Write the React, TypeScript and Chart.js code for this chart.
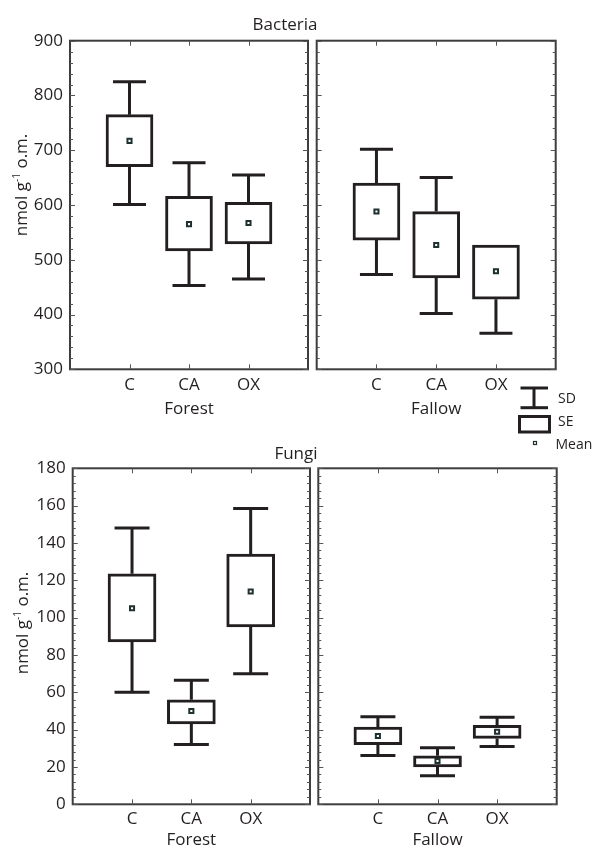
import React, { useEffect, useRef } from 'react';
import { Chart, registerables } from 'chart.js';

Chart.register(...registerables);

// ---------- data ----------
const groups = ['C', 'CA', 'OX'];

// Bacteria, Forest
const bacForestMean = [717, 565, 567];
const bacForestSeLow = [670, 516, 529];
const bacForestSeHigh = [765, 616, 605];
const bacForestSdLow = [601, 453, 465];
const bacForestSdHigh = [825, 677, 655];

// Bacteria, Fallow
const bacFallowMean = [588, 527, 479];
const bacFallowSeLow = [536, 467, 428];
const bacFallowSeHigh = [640, 588, 527];
const bacFallowSdLow = [473, 402, 366];
const bacFallowSdHigh = [702, 650, 527];

// Fungi, Forest
const funForestMean = [105, 50, 114];
const funForestSeLow = [87, 43, 95];
const funForestSeHigh = [123.5, 56, 134];
const funForestSdLow = [60, 32, 70];
const funForestSdHigh = [148, 66.5, 158.5];

// Fungi, Fallow
const funFallowMean = [36.6, 23.2, 38.9];
const funFallowSeLow = [32, 20, 35.3];
const funFallowSeHigh = [41.4, 26, 42.3];
const funFallowSdLow = [26.2, 15.3, 30.9];
const funFallowSdHigh = [46.9, 30.3, 46.6];

// axis ranges
const bacYRange = [300, 900];
const bacYStep = 100;
const funYRange = [0, 180];
const funYStep = 20;

// ---------- style ----------
const FONT = '"Open Sans", "DejaVu Sans", sans-serif';
const TXT = '#231f20';
const INK = '#231f20';
const FRAME = '#3d3d3d';
const TICK = '#555555';
const MEAN = '#1e3030';

type PanelProps = {
  left: number;
  top: number;
  width: number;
  height: number;
  pad: { left: number; right: number; top: number; bottom: number };
  yMin: number;
  yMax: number;
  yStep: number;
  showY: boolean;
  yWidth: number;
  xHeight: number;
  tickPad: number;
  titlePadBottom: number;
  xTitle: string;
  mean: number[];
  seLow: number[];
  seHigh: number[];
  sdLow: number[];
  sdHigh: number[];
  boxW: number;
  capW: number;
};

function Panel(p: PanelProps) {
  const ref = useRef<HTMLCanvasElement | null>(null);

  useEffect(() => {
    if (!ref.current) return;
    const labels = ['', ...groups, ''];

    const framePlugin = {
      id: 'frameTicks',
      beforeDatasetsDraw(chart: any) {
        const { ctx, chartArea: a, scales } = chart;
        const x = scales.x;
        const y = scales.y;
        ctx.save();
        ctx.strokeStyle = FRAME;
        ctx.lineWidth = 2;
        ctx.strokeRect(a.left, a.top, a.right - a.left, a.bottom - a.top);
        ctx.strokeStyle = TICK;
        ctx.lineWidth = 1;
        const minor = p.yStep / 5;
        const n = Math.round((p.yMax - p.yMin) / minor);
        for (let k = 0; k <= n; k++) {
          const v = p.yMin + k * minor;
          const py = Math.round(y.getPixelForValue(v)) + 0.5;
          const len = k % 5 === 0 ? 5 : 3;
          ctx.beginPath();
          ctx.moveTo(a.left, py);
          ctx.lineTo(a.left + len, py);
          ctx.moveTo(a.right - len, py);
          ctx.lineTo(a.right, py);
          ctx.stroke();
        }
        for (let i = 1; i <= groups.length; i++) {
          const px = Math.round(x.getPixelForValue(i)) + 0.5;
          ctx.beginPath();
          ctx.moveTo(px, a.top);
          ctx.lineTo(px, a.top + 5);
          ctx.moveTo(px, a.bottom);
          ctx.lineTo(px, a.bottom - 5);
          ctx.stroke();
        }
        // whiskers (SD)
        ctx.strokeStyle = INK;
        ctx.lineWidth = 3;
        ctx.lineCap = 'butt';
        for (let i = 0; i < groups.length; i++) {
          const cx = x.getPixelForValue(i + 1);
          const yLo = y.getPixelForValue(p.sdLow[i]);
          const yHi = y.getPixelForValue(p.sdHigh[i]);
          ctx.beginPath();
          if (p.sdLow[i] < p.seLow[i]) {
            ctx.moveTo(cx, yLo);
            ctx.lineTo(cx, y.getPixelForValue(p.seLow[i]));
            ctx.moveTo(cx - p.capW / 2, yLo);
            ctx.lineTo(cx + p.capW / 2, yLo);
          }
          if (p.sdHigh[i] > p.seHigh[i]) {
            ctx.moveTo(cx, yHi);
            ctx.lineTo(cx, y.getPixelForValue(p.seHigh[i]));
            ctx.moveTo(cx - p.capW / 2, yHi);
            ctx.lineTo(cx + p.capW / 2, yHi);
          }
          ctx.stroke();
        }
        ctx.restore();
      },
    };

    const chart = new Chart(ref.current, {
      type: 'bar',
      data: {
        labels,
        datasets: [
          {
            type: 'line',
            label: 'Mean',
            data: [null, ...p.mean, null],
            showLine: false,
            pointStyle: 'rect',
            pointRadius: 2.9,
            pointBorderWidth: 2,
            pointBorderColor: MEAN,
            pointBackgroundColor: '#ffffff',
          } as any,
          {
            type: 'bar',
            label: 'SE',
            data: [null, ...groups.map((_, i) => [p.seLow[i], p.seHigh[i]]), null],
            backgroundColor: '#ffffff',
            borderColor: INK,
            borderWidth: 3,
            borderSkipped: false,
            barThickness: p.boxW,
          } as any,
        ],
      },
      options: {
        animation: false,
        responsive: false,
        maintainAspectRatio: false,
        layout: { padding: p.pad },
        plugins: {
          legend: { display: false },
          tooltip: { enabled: false },
          title: { display: false },
        },
        scales: {
          x: {
            type: 'category',
            offset: false,
            grid: { display: false, drawTicks: false },
            border: { display: false },
            ticks: {
              autoSkip: false,
              maxRotation: 0,
              padding: p.tickPad,
              color: TXT,
              font: { family: FONT, size: 17 },
            },
            title: {
              display: true,
              text: p.xTitle,
              color: TXT,
              font: { family: FONT, size: 17 },
              padding: { top: 0, bottom: p.titlePadBottom },
            },
            afterFit: (s: any) => {
              s.height = p.xHeight;
            },
          },
          y: {
            type: 'linear',
            display: p.showY,
            min: p.yMin,
            max: p.yMax,
            grid: { display: false, drawTicks: false },
            border: { display: false },
            ticks: {
              stepSize: p.yStep,
              padding: 7,
              color: TXT,
              font: { family: FONT, size: 17 },
            },
            afterFit: (s: any) => {
              s.width = p.yWidth;
            },
          },
        },
      } as any,
      plugins: [framePlugin],
    });
    return () => chart.destroy();
  }, []);

  return (
    <canvas
      ref={ref}
      width={p.width}
      height={p.height}
      style={{ position: 'absolute', left: p.left, top: p.top, width: p.width, height: p.height }}
    />
  );
}

const textStyle = (x: number, y: number, size: number): React.CSSProperties => ({
  position: 'absolute',
  left: x,
  top: y,
  transform: 'translate(-50%, -50%)',
  fontFamily: FONT,
  fontSize: size,
  lineHeight: 1,
  color: TXT,
  whiteSpace: 'nowrap',
});

function YTitle({ x, y }: { x: number; y: number }) {
  return (
    <div style={{ ...textStyle(x, y, 17), transform: 'translate(-50%, -50%) rotate(-90deg)' }}>
      nmol g<span style={{ fontSize: 10, verticalAlign: 'super', lineHeight: 0 }}>-1</span> o.m.
    </div>
  );
}

function Legend() {
  return (
    <svg
      width={100}
      height={80}
      style={{ position: 'absolute', left: 500, top: 375, overflow: 'visible' }}
    >
      <g stroke={INK} strokeWidth={3} fill="none">
        <line x1={20.5} y1={13} x2={48} y2={13} />
        <line x1={34} y1={13} x2={34} y2={32.7} />
        <line x1={20.5} y1={32.7} x2={48} y2={32.7} />
        <rect x={19.5} y={41.5} width={30} height={15.5} fill="#fff" />
      </g>
      <rect x={33.5} y={66.5} width={3} height={3} fill="#fff" stroke={MEAN} strokeWidth={1.2} />
      <g fontFamily={FONT} fontSize={14} fill={TXT}>
        <text x={58} y={27.5}>SD</text>
        <text x={58} y={51}>SE</text>
        <text x={55.5} y={74}>Mean</text>
      </g>
    </svg>
  );
}

export default function App() {
  return (
    <div style={{ position: 'absolute', left: 0, top: 0, width: 594, height: 850, background: '#fff', overflow: 'hidden' }}>
      <Panel
        left={0} top={15} width={314} height={415}
        pad={{ left: 0, right: 6, top: 25.7, bottom: 0 }}
        yMin={bacYRange[0]} yMax={bacYRange[1]} yStep={bacYStep} showY={true} yWidth={70}
        xHeight={60.7} tickPad={6} titlePadBottom={10.8} xTitle="Forest"
        mean={bacForestMean} seLow={bacForestSeLow} seHigh={bacForestSeHigh}
        sdLow={bacForestSdLow} sdHigh={bacForestSdHigh} boxW={47} capW={33}
      />
      <Panel
        left={310} top={15} width={252} height={415}
        pad={{ left: 6.7, right: 6.3, top: 25.7, bottom: 0 }}
        yMin={bacYRange[0]} yMax={bacYRange[1]} yStep={bacYStep} showY={false} yWidth={0}
        xHeight={60.7} tickPad={6} titlePadBottom={10.8} xTitle="Fallow"
        mean={bacFallowMean} seLow={bacFallowSeLow} seHigh={bacFallowSeHigh}
        sdLow={bacFallowSdLow} sdHigh={bacFallowSdHigh} boxW={47} capW={33}
      />
      <Panel
        left={0} top={440} width={316} height={410}
        pad={{ left: 0, right: 5.3, top: 28.3, bottom: 0 }}
        yMin={funYRange[0]} yMax={funYRange[1]} yStep={funYStep} showY={true} yWidth={72.7}
        xHeight={45.7} tickPad={5} titlePadBottom={0} xTitle="Forest"
        mean={funForestMean} seLow={funForestSeLow} seHigh={funForestSeHigh}
        sdLow={funForestSdLow} sdHigh={funForestSdHigh} boxW={48} capW={35}
      />
      <Panel
        left={312} top={440} width={252} height={410}
        pad={{ left: 6.3, right: 7.3, top: 28.3, bottom: 0 }}
        yMin={funYRange[0]} yMax={funYRange[1]} yStep={funYStep} showY={false} yWidth={0}
        xHeight={45.7} tickPad={5} titlePadBottom={0} xTitle="Fallow"
        mean={funFallowMean} seLow={funFallowSeLow} seHigh={funFallowSeHigh}
        sdLow={funFallowSdLow} sdHigh={funFallowSdHigh} boxW={48} capW={35}
      />
      <div style={textStyle(285, 23, 17)}>Bacteria</div>
      <div style={textStyle(296, 452, 17)}>Fungi</div>
      <YTitle x={20} y={185} />
      <YTitle x={21} y={623} />
      <Legend />
    </div>
  );
}
